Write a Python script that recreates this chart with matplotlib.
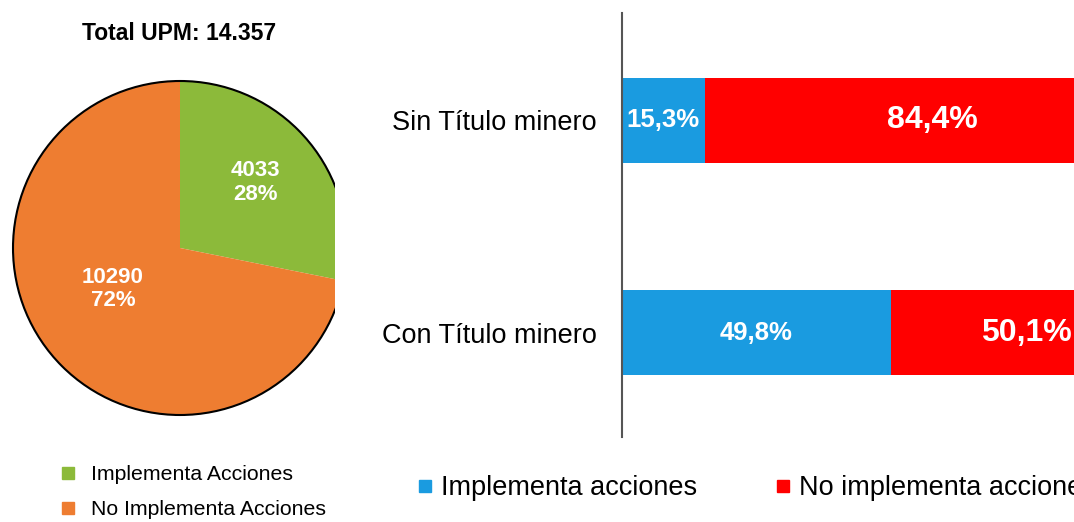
import numpy as np
import matplotlib
matplotlib.use('Agg')
import matplotlib.pyplot as plt
from matplotlib.lines import Line2D
from matplotlib.patches import Circle

plt.rcParams['font.family'] = ['Liberation Sans', 'DejaVu Sans']

# pie data
pie_title = 'Total UPM: 14.357'
pie_labels = ['Implementa Acciones', 'No Implementa Acciones']
pie_values = [4033, 10290]
pie_pcts = ['28%', '72%']
pie_colors = ['#8cba3a', '#ee7d31']

# bar data
categories = ['Con Título minero', 'Sin Título minero']
implementa = [49.8, 15.3]
no_implementa = [50.1, 84.4]
bar_legend = ['Implementa acciones', 'No implementa acciones']
bar_colors = ['#1a9be0', '#ff0000']

W, H = 1074, 522
fig = plt.figure(figsize=(W / 100, H / 100), dpi=100)

#pie, clipped on the right like the source
cx, cy, r = 180, 248, 167
ax1 = fig.add_axes([0, 0, 335 / W, 1])
wedges, _ = ax1.pie(pie_values, colors=pie_colors, startangle=90, counterclock=False,
                    wedgeprops=dict(linewidth=0))
for w in wedges:
    w.set_clip_on(True)
ax1.add_patch(Circle((0, 0), 1, fill=False, edgecolor='black', linewidth=1.5))
ax1.set_xlim(-cx / r, (335 - cx) / r)
ax1.set_ylim(-(H - cy) / r, cy / r)
ax1.set_aspect('auto')
ax1.axis('off')

label_dist = [0.6, 0.47]
label_shift = [1.5, -8]
for w, val, pct, d, s in zip(wedges, pie_values, pie_pcts, label_dist, label_shift):
    ang = np.deg2rad((w.theta1 + w.theta2) / 2 + s)
    ax1.text(d * np.cos(ang), d * np.sin(ang), '%d\n%s' % (val, pct), ha='center', va='center',
             color='white', fontsize=16, fontweight='bold', linespacing=1.15)

fig.text(179 / W, 1 - 34 / H, pie_title, ha='center', va='center', fontsize=16.5, fontweight='bold')

h1 = [Line2D([], [], marker='s', linestyle='none', color=c, markersize=8) for c in pie_colors]
fig.legend(h1, pie_labels, loc='center left', bbox_to_anchor=(57 / W, 1 - 492 / H),
           frameon=False, fontsize=15.3, handlelength=1.0, handletextpad=0.6, labelspacing=0.75,
           borderpad=0, borderaxespad=0)

#bars
px_per_pct = 5.4
ax2 = fig.add_axes([622 / W, (H - 437) / H, (W - 622) / W, 424 / H])
y = np.arange(len(categories))
ax2.barh(y, implementa, height=0.4, color=bar_colors[0])
ax2.barh(y, no_implementa, left=implementa, height=0.4, color=bar_colors[1])
for i in y:
    ax2.text(implementa[i] / 2, i, ('%.1f%%' % implementa[i]).replace('.', ','), ha='center', va='center',
             color='white', fontsize=18.5, fontweight='bold')
    ax2.text(implementa[i] + no_implementa[i] / 2, i, ('%.1f%%' % no_implementa[i]).replace('.', ','),
             ha='center', va='center', color='white', fontsize=23, fontweight='bold')
ax2.set_xlim(0, (W - 622) / px_per_pct)
ax2.set_ylim(-0.49, 1.504)
ax2.set_yticks(y)
ax2.set_yticklabels(categories, fontsize=19.5)
ax2.tick_params(axis='y', length=0, pad=18)
ax2.set_xticks([])
for s in ['top', 'right', 'bottom']:
    ax2.spines[s].set_visible(False)
ax2.spines['left'].set_color('#555555')
ax2.spines['left'].set_linewidth(1.5)

h2 = [Line2D([], [], marker='s', linestyle='none', color=c, markersize=9) for c in bar_colors]
fig.legend(h2, bar_legend, loc='center left', bbox_to_anchor=(417 / W, 1 - 488 / H), ncol=2,
           frameon=False, fontsize=19.5, handlelength=0.6, handletextpad=0.3, columnspacing=2.85,
           borderpad=0, borderaxespad=0)

plt.savefig('out.png', dpi=100)
